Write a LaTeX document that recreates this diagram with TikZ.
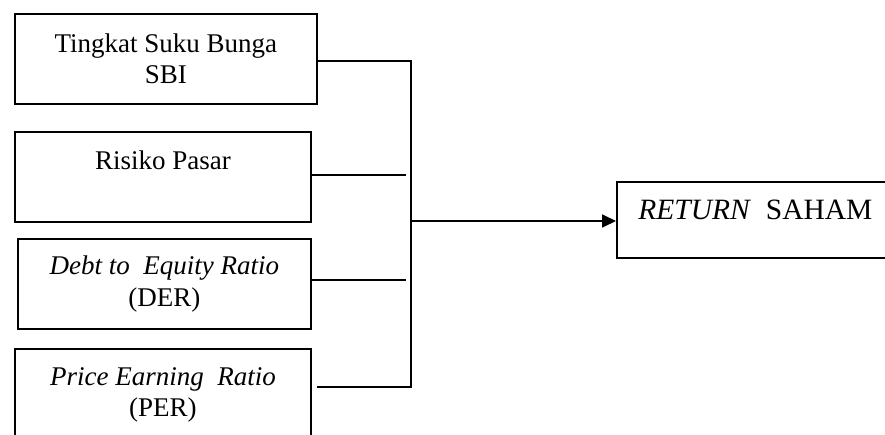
\documentclass[tikz,border=0pt]{standalone}
\usepackage{fontspec}
\setmainfont{Liberation Serif}
\usetikzlibrary{arrows.meta,calc}
\begin{document}
\begin{tikzpicture}[x=1pt,y=-1pt,
  box/.style={draw, line width=1.8pt, rectangle, anchor=north west, align=center, inner sep=0pt,
    font=\fontsize{27}{31.5}\selectfont},
  conn/.style={line width=1.8pt}]
\useasboundingbox (0,0) rectangle (885,435);
\clip (0,0) rectangle (885,435);
\node[box, minimum width=302pt, minimum height=90pt] (sbi) at (14,13) {Tingkat Suku Bunga\\SBI};
\node[box, minimum width=296pt, minimum height=90pt, text depth=34pt] (risk) at (14,131) {Risiko Pasar};
\node[box, minimum width=293pt, minimum height=90pt] (der) at (17,238) {\textit{Debt to~ Equity Ratio}\\(DER)};
\node[box, minimum width=296pt, minimum height=92pt] (per) at (14,348) {\textit{Price Earning~ Ratio}\\(PER)};
\node[box, minimum width=277pt, minimum height=76pt, text depth=20pt, font=\fontsize{29.5}{34}\selectfont] (ret) at (616,181) {\textit{RETURN}~ SAHAM};
\coordinate (j1) at (411,61);
\coordinate (j4) at (411,387);
\coordinate (jm) at (411,221);
\coordinate (e2) at (406,175);
\coordinate (e3) at (406,280);
\draw[conn] ($(per.east |- j4)+(5,0)$) -- (j4) -- (j1) -- (sbi.east |- j1);
\draw[conn] (risk.east |- e2) -- (e2);
\draw[conn] (der.east |- e3) -- (e3);
\draw[conn,-{Triangle[length=14pt,width=13pt]}] (jm) -- (ret.west |- jm);
\end{tikzpicture}
\end{document}
